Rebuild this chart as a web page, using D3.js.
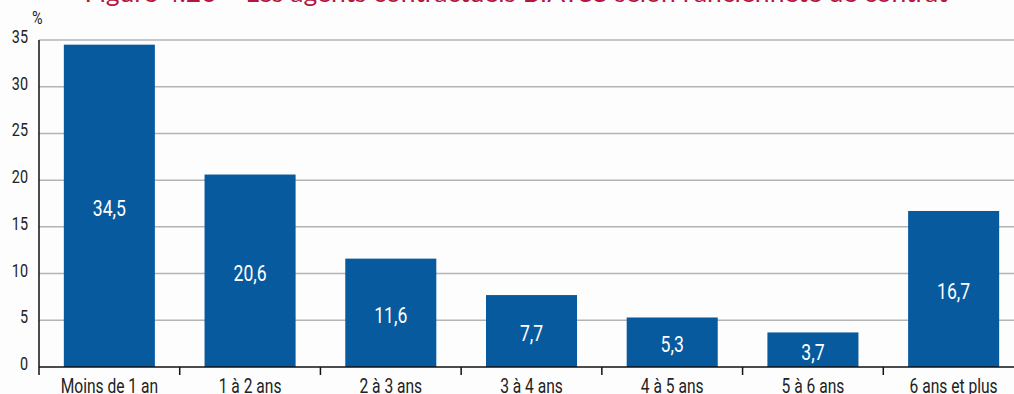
<!DOCTYPE html>
<html lang="fr">
<head>
    <meta charset="UTF-8">
    <title>Les agents contractuels BIATSS selon l'ancienneté de contrat</title>
    <style>
        body {
            margin: 0;
            background: #fdfdfd;
            font-family: Roboto, "Liberation Sans", sans-serif;
        }

        svg {
            display: block;
        }

        .grid line {
            stroke: #b4b4b4;
            stroke-width: 1.5;
        }

        .axis-label {
            fill: #222;
            font-size: 18px;
        }

        .value-label {
            fill: #fff;
            font-size: 22px;
        }

        .title {
            fill: #b5153f;
            font-family: Lato, "Open Sans", sans-serif;
            font-size: 25px;
        }
    </style>
</head>
<body>
    <svg id="chart" width="1014" height="394"></svg>

    <script src="https://d3js.org/d3.v7.min.js"></script>
    <script>
        const categories = ["Moins de 1 an", "1 à 2 ans", "2 à 3 ans", "3 à 4 ans", "4 à 5 ans", "5 à 6 ans", "6 ans et plus"];
        const values = [34.5, 20.6, 11.6, 7.7, 5.3, 3.7, 16.7];
        const yTicks = [0, 5, 10, 15, 20, 25, 30, 35];
        const title = "Figure 4.26 – Les agents contractuels BIATSS selon l'ancienneté de contrat";

        const svg = d3.select("#chart");
        const plotLeft = 39, plotRight = 1024, plotTop = 40, plotBottom = 367;
        const squeeze = 0.8; // condensed look for the labels

        const x = d3.scaleBand()
            .domain(categories)
            .range([plotLeft, plotRight])
            .paddingInner(0.353)
            .paddingOuter(0.1765);

        const y = d3.scaleLinear()
            .domain([0, 35])
            .range([plotBottom, plotTop]);

        const fmt = v => d3.format(".1f")(v).replace(".", ",");

        // title, mostly cut by the top edge
        svg.append("text")
            .attr("class", "title")
            .attr("x", 516)
            .attr("y", 2)
            .attr("text-anchor", "middle")
            .attr("textLength", 863)
            .attr("lengthAdjust", "spacingAndGlyphs")
            .text(title);

        // gridlines
        svg.append("g")
            .attr("class", "grid")
            .selectAll("line")
            .data(yTicks.filter(d => d > 0))
            .join("line")
            .attr("x1", plotLeft)
            .attr("x2", 1014)
            .attr("y1", d => y(d))
            .attr("y2", d => y(d));

        // y tick labels
        svg.append("g")
            .selectAll("text")
            .data(yTicks)
            .join("text")
            .attr("class", "axis-label")
            .attr("text-anchor", "end")
            .attr("transform", d => `translate(28,${y(d) + 3}) scale(${squeeze},1)`)
            .text(d => d);

        svg.append("text")
            .attr("class", "axis-label")
            .attr("transform", `translate(32,24) scale(${squeeze},1)`)
            .text("%");

        // bars
        svg.append("g")
            .selectAll("rect")
            .data(values)
            .join("rect")
            .attr("x", (d, i) => x(categories[i]))
            .attr("width", x.bandwidth())
            .attr("y", d => y(d))
            .attr("height", d => y(0) - y(d))
            .attr("fill", "#085a9e");

        // value labels in the middle of each bar
        svg.append("g")
            .selectAll("text")
            .data(values)
            .join("text")
            .attr("class", "value-label")
            .attr("text-anchor", "middle")
            .attr("dominant-baseline", "central")
            .attr("transform", (d, i) => {
                const cx = x(categories[i]) + x.bandwidth() / 2;
                const cy = (y(d) + y(0)) / 2 + 3;
                return `translate(${cx},${cy}) scale(${squeeze},1)`;
            })
            .text(fmt);

        // axes lines
        svg.append("line")
            .attr("x1", plotLeft).attr("x2", plotLeft)
            .attr("y1", plotTop).attr("y2", plotBottom + 8)
            .attr("stroke", "#111").attr("stroke-width", 1.5);

        svg.append("line")
            .attr("x1", plotLeft).attr("x2", 1014)
            .attr("y1", plotBottom).attr("y2", plotBottom)
            .attr("stroke", "#111").attr("stroke-width", 1.5);

        // category separators
        const step = x.step();
        svg.append("g")
            .selectAll("line")
            .data(categories.slice(1))
            .join("line")
            .attr("x1", d => x(d) - step * x.paddingInner() / 2)
            .attr("x2", d => x(d) - step * x.paddingInner() / 2)
            .attr("y1", plotBottom)
            .attr("y2", plotBottom + 8)
            .attr("stroke", "#111").attr("stroke-width", 1.5);

        // category labels
        svg.append("g")
            .selectAll("text")
            .data(categories)
            .join("text")
            .attr("class", "axis-label")
            .attr("text-anchor", "middle")
            .attr("transform", d => `translate(${x(d) + x.bandwidth() / 2},393) scale(0.78,1)`)
            .style("font-size", "20px")
            .text(d => d);
    </script>
</body>
</html>
